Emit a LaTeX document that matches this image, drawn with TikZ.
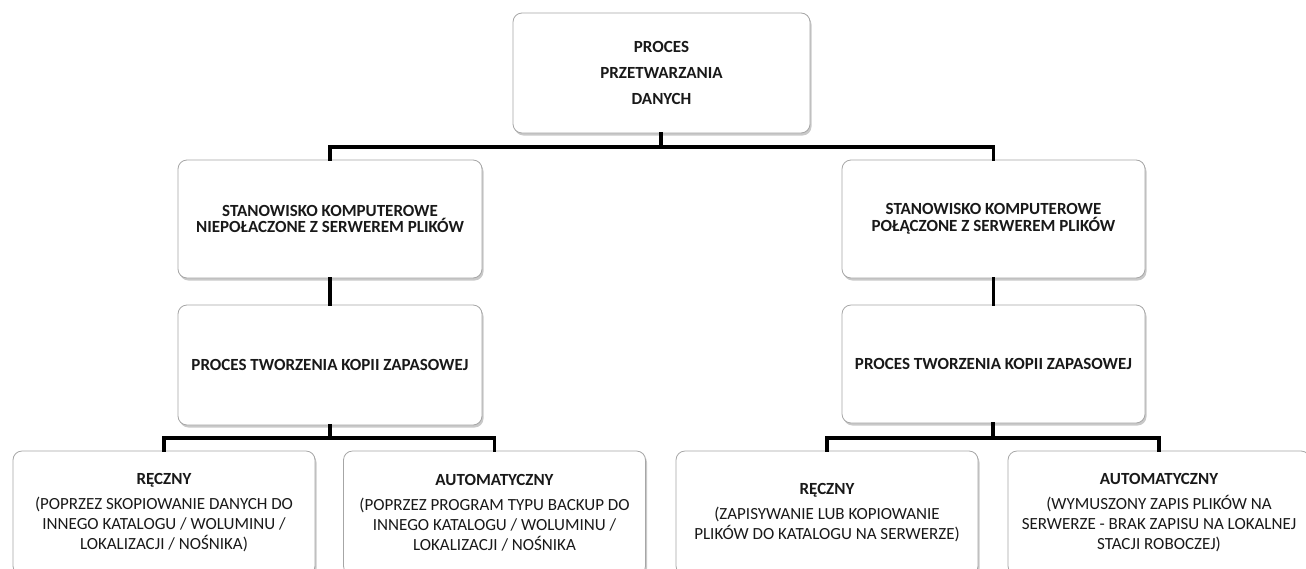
\documentclass[tikz,border=0pt]{standalone}
\usepackage{fontspec}
\setmainfont{Carlito}
\usetikzlibrary{shadows}
\begin{document}
\begin{tikzpicture}[x=1pt,y=-1pt,
  box/.style={draw=black!35, line width=0.8pt, fill=white, rounded corners=9pt,
    drop shadow={shadow xshift=1.5pt, shadow yshift=-2.5pt, opacity=0.35, fill=black!60},
    align=center, inner sep=0pt, text=black!90},
  hdr/.style={font=\bfseries\fontsize{17}{16.5}\selectfont},
  conn/.style={draw=black, line width=3.6pt, line join=miter, line cap=rect},
  ]
\clip (0,0) rectangle (1306,568);
\fill[white] (0,0) rectangle (1306,568);
% top
\node[box, minimum width=297pt, minimum height=120pt, font=\bfseries\fontsize{17}{26}\selectfont] (top) at (661.5,73) {PROCES\\PRZETWARZANIA\\DANYCH};
% level 2
\node[box, hdr, minimum width=304pt, minimum height=118pt] (l2L) at (330,219) {STANOWISKO KOMPUTEROWE\\NIEPOŁACZONE Z SERWEREM PLIKÓW};
\node[box, hdr, minimum width=303pt, minimum height=118pt] (l2R) at (993.5,219) {STANOWISKO KOMPUTEROWE\\POŁĄCZONE Z SERWEREM PLIKÓW};
% level 3
\node[box, hdr, minimum width=304pt, minimum height=120pt] (l3L) at (330,365) {PROCES TWORZENIA KOPII ZAPASOWEJ};
\node[box, hdr, minimum width=303pt, minimum height=118pt] (l3R) at (993.5,364) {PROCES TWORZENIA KOPII ZAPASOWEJ};
% bottom
\tikzset{bot/.style={box, minimum width=302pt, minimum height=124pt, font=\fontsize{17}{20}\selectfont}}
\newcommand{\bhead}[1]{{\bfseries\fontsize{17}{17}\selectfont #1}}
\node[bot] (b1) at (164,513) {\bhead{RĘCZNY}\\[5pt](POPRZEZ SKOPIOWANIE DANYCH DO\\INNEGO KATALOGU / WOLUMINU /\\LOKALIZACJI / NOŚNIKA)};
\node[bot] (b2) at (494.5,513) {\bhead{AUTOMATYCZNY}\\[5pt](POPRZEZ PROGRAM TYPU BACKUP DO\\INNEGO KATALOGU / WOLUMINU /\\LOKALIZACJI / NOŚNIKA};
\node[bot] (b3) at (827,513) {\bhead{RĘCZNY}\\[5pt](ZAPISYWANIE LUB KOPIOWANIE\\PLIKÓW DO KATALOGU NA SERWERZE)};
\node[bot] (b4) at (1159,513) {\bhead{AUTOMATYCZNY}\\[5pt](WYMUSZONY ZAPIS PLIKÓW NA\\SERWERZE - BRAK ZAPISU NA LOKALNEJ\\STACJI ROBOCZEJ)};
% connectors
\coordinate (j0) at (661,147);
\coordinate (j1) at (330,438);
\coordinate (j2) at (993,438);
\draw[conn] (top.south -| j0) -- (j0);
\draw[conn] (l2L.north) |- (j0) -| (l2R.north);
\draw[conn] (l2L.south) -- (l3L.north);
\draw[conn] (l2R.south -| l3R.north) -- (l3R.north);
\draw[conn] (l3L.south) -- (j1);
\draw[conn] (b1.north) |- (j1) -| (b2.north);
\draw[conn] (l3R.south -| j2) -- (j2);
\draw[conn] (b3.north) |- (j2) -| (b4.north);
\end{tikzpicture}
\end{document}
